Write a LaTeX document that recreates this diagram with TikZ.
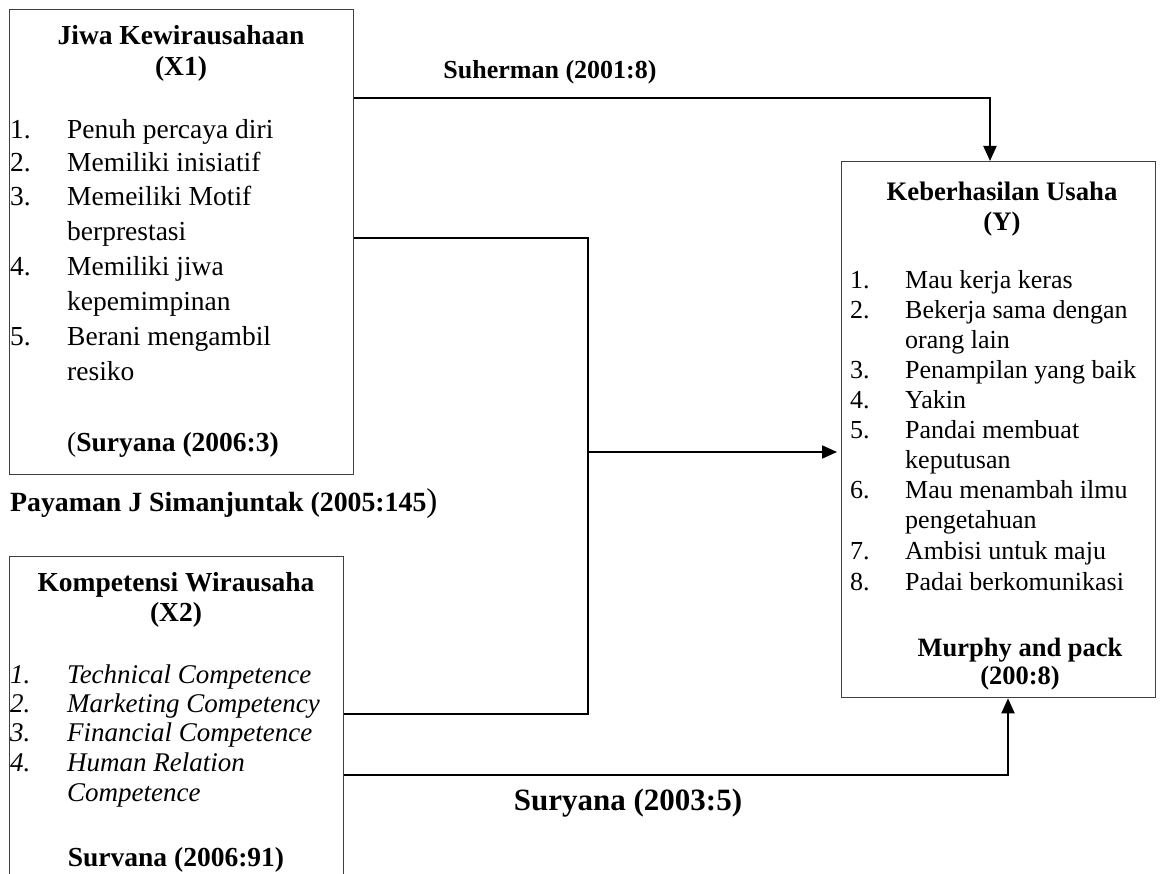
\documentclass[tikz,border=0pt]{standalone}
\usepackage{fontspec}
\setmainfont{Liberation Serif}
\usetikzlibrary{arrows.meta,calc}
\begin{document}
\begin{tikzpicture}[x=1pt,y=-1pt,
  box/.style={draw=black!75, line width=1.3pt, fill=none, inner sep=0pt, anchor=north west},
  txt/.style={font=\fontsize{26}{30}\selectfont, inner sep=0pt, yshift=-6pt},
  big/.style={font=\fontsize{27.5}{32}\selectfont},
  mid2/.style={font=\fontsize{27}{31}\selectfont},
  lft/.style={txt, anchor=mid west},
  ctr/.style={txt, anchor=mid},
  conn/.style={line width=2pt, black},
  arr/.style={conn, -{Triangle[length=15pt,width=13pt]}}
]
\useasboundingbox (0,0) rectangle (1161,874);
\clip (0,0) rectangle (1161,874);

% boxes
\node[box, minimum width=344pt, minimum height=465pt] (b1) at (9,9) {};
\node[box, minimum width=334pt, minimum height=340pt] (b2) at (9,556) {};
\node[box, minimum width=314pt, minimum height=536pt] (by) at (841,161) {};

% box 1 text
\node[ctr, big] (t1a) at (181,36) {\textbf{Jiwa Kewirausahaan}};
\node[ctr, big] (t1b) at (181,67) {\textbf{(X1)}};
\foreach \yy/\nn/\tt [count=\i] in {130/1./Penuh percaya diri, 163/2./Memiliki inisiatif, 197/3./Memeiliki Motif, 232//berprestasi, 267/4./Memiliki jiwa, 302//kepemimpinan, 337/5./Berani mengambil, 372//resiko}{
  \node[lft, big] (n1-\i) at (10,\yy) {\nn};
  \node[lft, big] (l1-\i) at (67,\yy) {\tt};
}
\node[lft, big] (t1c) at (67,443) {(\textbf{Suryana (2006:3)}};

% box 2 text
\node[ctr, big] (t2a) at (176,583) {\textbf{Kompetensi Wirausaha}};
\node[ctr, big] (t2b) at (176,613) {\textbf{(X2)}};
\foreach \yy/\nn/\tt [count=\i] in {675/1./Technical Competence, 704/2./Marketing Competency, 733/3./Financial Competence, 763/4./Human Relation, 793//Competence}{
  \node[lft, mid2] (n2-\i) at (10,\yy) {\textit{\nn}};
  \node[lft, mid2] (l2-\i) at (67,\yy) {\textit{\tt}};
}
\node[ctr, big] (t2c) at (176,858) {\textbf{Survana (2006:91)}};

% box Y text
\node[ctr, font=\fontsize{26.7}{31}\selectfont] (tya) at (1002,192) {\textbf{Keberhasilan Usaha}};
\node[ctr, font=\fontsize{26.7}{31}\selectfont] (tyb) at (1002,222) {\textbf{(Y)}};
\foreach \yy/\nn/\tt [count=\i] in {280/1./Mau kerja keras, 310/2./Bekerja sama dengan, 340//orang lain, 370/3./Penampilan yang baik, 400/4./Yakin, 430/5./Pandai membuat, 460//keputusan, 490/6./Mau menambah ilmu, 520//pengetahuan, 551/7./Ambisi untuk maju, 582/8./Padai berkomunikasi}{
  \node[lft] (ny-\i) at (850,\yy) {\nn};
  \node[lft] (ly-\i) at (905,\yy) {\tt};
}
\node[ctr, font=\fontsize{26.5}{31}\selectfont] (tyc) at (1020,648) {\textbf{Murphy and pack}};
\node[ctr, font=\fontsize{26.5}{31}\selectfont] (tyd) at (1020,676) {\textbf{(200:8)}};

% labels
\node[ctr] (lab1) at (550,70) {\textbf{Suherman (2001:8)}};
\node[lft, font=\fontsize{27.8}{32}\selectfont] (lab2) at (10,503) {\textbf{Payaman J Simanjuntak (2005:145}{\fontsize{33}{38}\selectfont )}};
\node[txt, anchor=mid, font=\fontsize{31}{36}\selectfont] (lab3) at (628,802) {\textbf{Suryana (2003:5)}};

% connectors
\coordinate (jm) at (588,452);
\draw[arr] ($(b1.north east)+(0,89)$) -| ($(by.north west)+(149,0)$);
\draw[conn] ($(b1.north east)+(0,229)$) -| (jm);
\draw[conn] ($(b2.north east)+(0,158)$) -| (jm);
\draw[arr] (jm) -- ($(by.west |- jm)+(-4,0)$);
\draw[arr] ($(b2.north east)+(0,219)$) -| ($(by.south west)+(167,0)$);
\end{tikzpicture}
\end{document}
